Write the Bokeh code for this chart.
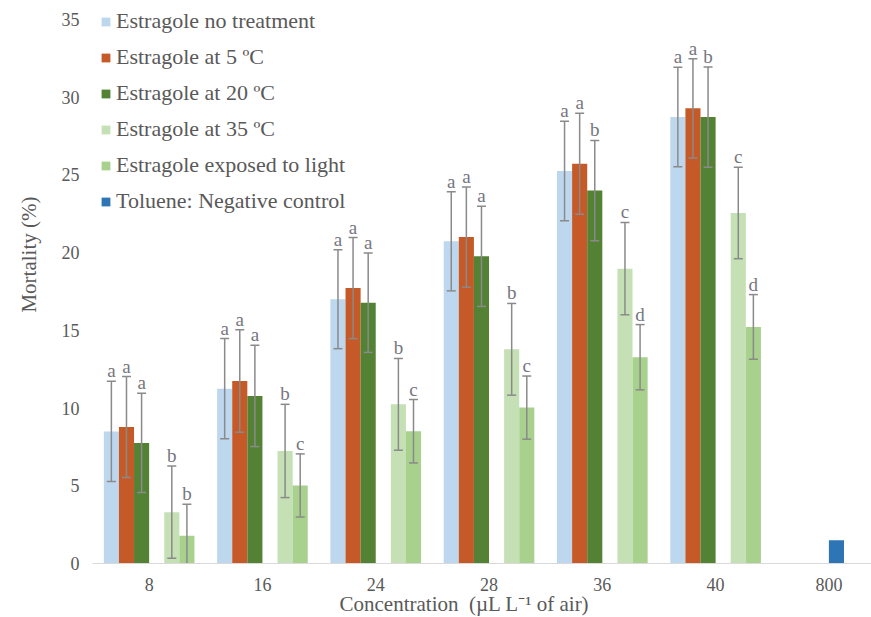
from bokeh.plotting import figure
from bokeh.models import Range1d, FixedTicker, Title, ColumnDataSource
from bokeh.core.properties import value
from bokeh.embed import file_html
from bokeh.resources import INLINE

# Concentrations (µL L-1 of air); the last one is only used by the toluene control
concentrations = ["8", "16", "24", "28", "36", "40", "800"]

no_treatment = [8.5, 11.25, 17.0, 20.73, 25.25, 28.72]
no_treatment_err = [3.22, 3.22, 3.18, 3.19, 3.2, 3.2]
no_treatment_grp = ["a", "a", "a", "a", "a", "a"]

at_5c = [8.78, 11.74, 17.72, 21.0, 25.72, 29.28]
at_5c_err = [3.25, 3.3, 3.25, 3.22, 3.25, 3.2]
at_5c_grp = ["a", "a", "a", "a", "a", "a"]

at_20c = [7.76, 10.78, 16.78, 19.76, 23.99, 28.72]
at_20c_err = [3.2, 3.26, 3.2, 3.22, 3.23, 3.22]
at_20c_grp = ["a", "a", "a", "a", "b", "b"]

at_35c = [3.3, 7.24, 10.24, 13.78, 18.97, 22.55]
at_35c_err = [2.97, 3.0, 2.95, 2.95, 2.97, 2.94]
at_35c_grp = ["b", "b", "b", "b", "c", "c"]

exposed_light = [1.78, 5.02, 8.51, 10.03, 13.27, 15.22]
exposed_light_err = [2.03, 2.03, 2.04, 2.03, 2.1, 2.08]
exposed_light_grp = ["b", "c", "c", "c", "d", "d"]

toluene = [1.5]

# series: (legend name, values, errors, letters, colour, slot within a group)
series = [
    ("Estragole no treatment", no_treatment, no_treatment_err, no_treatment_grp, "#BDD7EE", 0),
    ("Estragole at 5 ºC", at_5c, at_5c_err, at_5c_grp, "#C55A28", 1),
    ("Estragole at 20 ºC", at_20c, at_20c_err, at_20c_grp, "#548235", 2),
    ("Estragole at 35 ºC", at_35c, at_35c_err, at_35c_grp, "#C5E0B4", 4),
    ("Estragole exposed to light", exposed_light, exposed_light_err, exposed_light_grp, "#A9D18E", 5),
]

SLOTS = 7.5          # 6 bar slots + gap per category
BAR_W = 1.0 / SLOTS
FONT = value("Liberation Serif")
TXT = "#595959"
ERR = "#8a8a8a"


def slot_x(cat_index, slot):
    return cat_index + 0.5 + (slot - 2.5) / SLOTS


p = figure(width=871, height=617, output_backend="svg", toolbar_location=None,
           x_range=Range1d(0, 6.876), y_range=Range1d(0, 36.22),
           min_border_left=92, min_border_right=0, min_border_top=0, min_border_bottom=54)
p.background_fill_color = "white"
p.border_fill_color = "white"
p.outline_line_color = None
p.grid.visible = False

for name, vals, errs, grps, color, slot in series:
    xs = [slot_x(i, slot) for i in range(len(vals))]
    lo = [v - e for v, e in zip(vals, errs)]
    hi = [v + e for v, e in zip(vals, errs)]
    src = ColumnDataSource(dict(x=xs, top=vals, lo=lo, hi=hi, grp=grps))
    p.vbar(x="x", top="top", width=BAR_W, fill_color=color, line_color=None,
           source=src, legend_label=name)
    p.segment(x0="x", y0="lo", x1="x", y1="hi", line_color=ERR, line_width=1.5, source=src)
    p.scatter(x="x", y="hi", marker="dash", size=9, line_color=ERR, line_width=1.5, source=src)
    p.scatter(x="x", y="lo", marker="dash", size=9, line_color=ERR, line_width=1.5, source=src)
    p.text(x="x", y="hi", text="grp", source=src, text_align="center",
           text_baseline="bottom", y_offset=0, text_font=FONT,
           text_font_size="19px", text_color="#767680")

tol_src = ColumnDataSource(dict(x=[slot_x(6, 3)], top=toluene))
p.vbar(x="x", top="top", width=BAR_W, fill_color="#2E75B6", line_color=None,
       source=tol_src, legend_label="Toluene: Negative control")

# axes
p.xaxis.ticker = FixedTicker(ticks=[i + 0.5 for i in range(len(concentrations))])
p.xaxis.major_label_overrides = {i + 0.5: c for i, c in enumerate(concentrations)}
p.xaxis.axis_line_color = "#d9d9d9"
p.xaxis.axis_line_width = 1.2
p.xaxis.major_tick_line_color = None
p.xaxis.major_tick_out = 0
p.xaxis.minor_tick_line_color = None
p.xaxis.major_label_standoff = 14

p.yaxis.ticker = FixedTicker(ticks=[0, 5, 10, 15, 20, 25, 30, 35])
p.yaxis.axis_line_color = None
p.yaxis.major_tick_line_color = None
p.yaxis.major_tick_out = 0
p.yaxis.minor_tick_line_color = None
p.yaxis.major_label_standoff = 13

for ax in (p.xaxis, p.yaxis):
    ax.major_label_text_font = "Liberation Serif"
    ax.major_label_text_font_size = "18px"
    ax.major_label_text_color = TXT

# axis titles
p.add_layout(Title(text="Concentration \u00a0(µL L⁻¹ of air)", align="left", offset=247,
                   vertical_align="top", standoff=-4, text_font="Liberation Serif",
                   text_font_size="21px", text_font_style="normal", text_color=TXT), "below")
p.add_layout(Title(text="Mortality (%)", align="right", offset=196,
                   vertical_align="top", standoff=32, text_font="Liberation Serif",
                   text_font_size="21px", text_font_style="normal", text_color=TXT), "left")

# legend
lg = p.legend[0]
lg.location = "top_left"
lg.margin = 8
lg.padding = 0
lg.spacing = 10
lg.label_height = 24
lg.glyph_width = 11
lg.glyph_height = 11
lg.label_standoff = 5
lg.border_line_color = None
lg.background_fill_alpha = 0
lg.label_text_font = "Liberation Serif"
lg.label_text_font_size = "22px"
lg.label_text_color = TXT

open("out.html", "w").write(file_html(p, INLINE))
